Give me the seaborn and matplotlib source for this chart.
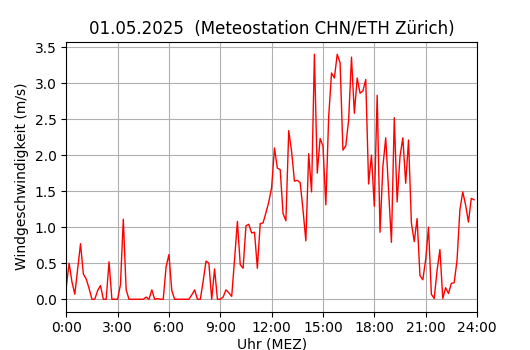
import numpy as np
import pandas as pd
import matplotlib
matplotlib.use("Agg")
import matplotlib.pyplot as plt
import seaborn as sns

# 10-Minuten-Werte, 0:00 bis 23:50
wind = [
    0.17, 0.50, 0.24, 0.07, 0.42, 0.77, 0.35, 0.28, 0.15, 0.00, 0.00, 0.12,
    0.19, 0.00, 0.00, 0.52, 0.00, 0.00, 0.00, 0.20, 1.11, 0.13, 0.00, 0.00,
    0.00, 0.00, 0.00, 0.00, 0.03, 0.00, 0.13, 0.00, 0.01, 0.00, 0.00, 0.45,
    0.62, 0.12, 0.00, 0.00, 0.00, 0.00, 0.00, 0.00, 0.06, 0.13, 0.00, 0.00,
    0.25, 0.53, 0.50, 0.00, 0.42, 0.00, 0.00, 0.03, 0.13, 0.09, 0.04, 0.55,
    1.08, 0.48, 0.43, 1.02, 1.04, 0.92, 0.93, 0.43, 1.05, 1.06, 1.20, 1.35,
    1.55, 2.10, 1.82, 1.80, 1.19, 1.09, 2.34, 2.05, 1.64, 1.65, 1.62, 1.24,
    0.81, 2.02, 1.49, 3.40, 1.75, 2.23, 2.13, 1.31, 2.53, 3.14, 3.07, 3.40,
    3.28, 2.07, 2.13, 2.49, 3.36, 2.58, 3.07, 2.86, 2.89, 3.05, 1.60, 2.00,
    1.29, 2.83, 0.93, 1.84, 2.24, 1.51, 0.79, 2.52, 1.35, 1.98, 2.24, 1.61,
    2.21, 1.06, 0.80, 1.12, 0.33, 0.27, 0.55, 1.00, 0.07, 0.01, 0.40, 0.69,
    0.01, 0.16, 0.08, 0.22, 0.23, 0.54, 1.24, 1.49, 1.31, 1.07, 1.40, 1.38,
]
minutes = list(range(0, 10 * len(wind), 10))

tick_hours = [0, 3, 6, 9, 12, 15, 18, 21, 24]
tick_labels = ["0:00", "3:00", "6:00", "9:00", "12:00", "15:00", "18:00", "21:00", "24:00"]

df = pd.DataFrame({"stunde": np.array(minutes) / 60.0, "wind": wind})

fig, ax = plt.subplots(figsize=(5.3, 3.5), dpi=100)

sns.lineplot(data=df, x="stunde", y="wind", color="red", linewidth=1, ax=ax)

ax.set_xlim(0, 24)
ax.set_xticks(tick_hours)
ax.set_xticklabels(tick_labels)
ax.grid(True)

ax.set_title("01.05.2025  (Meteostation CHN/ETH Zürich)")
ax.set_xlabel("Uhr (MEZ)", labelpad=1.5)
ax.set_ylabel("Windgeschwindigkeit (m/s)")

plt.savefig("out.png")
